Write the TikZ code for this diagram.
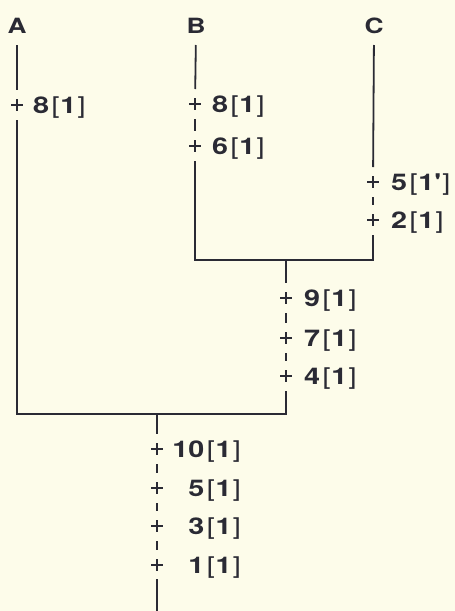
\documentclass[tikz,border=0pt]{standalone}
\usepackage{fontspec}
\usepackage{graphicx}
\setmainfont{TeX Gyre Heros}
\definecolor{bg}{RGB}{253,252,234}
\definecolor{ink}{RGB}{42,42,52}
\newcommand{\wid}[1]{\scalebox{1.25}[1]{#1}}
\newcommand{\cnt}[2]{\wid{\bfseries #1\hspace{2pt}{\mdseries[}\hspace{0.5pt}#2\hspace{1pt}{\mdseries]}}}
\begin{document}
\begin{tikzpicture}[x=1pt,y=-1pt,
  branch/.style={draw=ink, line width=1.8pt, line join=miter},
  gapboth/.style={shorten <=15pt, shorten >=15pt},
  tipname/.style={font=\bfseries\fontsize{21}{24}\selectfont, text=ink, inner sep=0pt, anchor=base},
  lab/.style={font=\fontsize{23}{26}\selectfont, text=ink, inner sep=0pt, anchor=base west},
  labr/.style={font=\fontsize{23}{26}\selectfont, text=ink, inner sep=0pt, anchor=base east},
  plusmark/.style={draw=ink, line width=1.6pt}]
\fill[bg] (0,0) rectangle (455,611);
\useasboundingbox (0,0) rectangle (455,611);

% taxa
\node[tipname] (A) at (17,33) {\wid{A}};
\node[tipname] (B) at (196,33) {\wid{B}};
\node[tipname] (C) at (374,33) {\wid{C}};

% tick points and junctions
\coordinate (a1) at (17,105);
\coordinate (jA) at (17,414);
\coordinate (b1) at (195,104);
\coordinate (b2) at (195,146);
\coordinate (jB) at (195,260);
\coordinate (c1) at (373,182);
\coordinate (c2) at (373,220);
\coordinate (jC) at (373,260);
\coordinate (s0) at (286,260);
\coordinate (s1) at (286,298);
\coordinate (s2) at (286,338);
\coordinate (s3) at (286,376);
\coordinate (s4) at (286,414);
\coordinate (r0) at (157,414);
\coordinate (r1) at (157,449);
\coordinate (r2) at (157,488);
\coordinate (r3) at (157,526);
\coordinate (r4) at (157,565);
\coordinate (rend) at (157,611);

% branches
\draw[branch, shorten <=12pt, shorten >=15pt] (A.base) -- (a1);
\draw[branch, shorten <=12pt, shorten >=15pt] (B.base) -- (b1);
\draw[branch, shorten <=12pt, shorten >=15pt] (C.base) -- (c1);
\draw[branch, gapboth] (b1) -- (b2);
\draw[branch, gapboth] (c1) -- (c2);
\draw[branch, gapboth] (b2) -- (jB) -- (jC) -- (c2);
\draw[branch, shorten >=15pt] (s0) -- (s1);
\draw[branch, gapboth] (s1) -- (s2);
\draw[branch, gapboth] (s2) -- (s3);
\draw[branch, gapboth] (s3) -- (s4) -- (jA) -- (a1);
\draw[branch, shorten >=15pt] (r0) -- (r1);
\draw[branch, gapboth] (r1) -- (r2);
\draw[branch, gapboth] (r2) -- (r3);
\draw[branch, gapboth] (r3) -- (r4);
\draw[branch, shorten <=14pt] (r4) -- (rend);

% plus marks
\foreach \p in {a1,b1,b2,c1,c2,s1,s2,s3,r1,r2,r3,r4}
  \draw[plusmark] (\p) +(-6,0) -- +(6,0) (\p) +(0,-6) -- +(0,6);

% labels
\node[lab] (la1) at (33,113) {\cnt{8}{1}};
\node[lab] (lb1) at (212,112) {\cnt{8}{1}};
\node[lab] (lb2) at (212,154) {\cnt{6}{1}};
\node[lab] (lc1) at (391,190) {\cnt{5}{1\textquotesingle}};
\node[lab] (lc2) at (391,228) {\cnt{2}{1}};
\node[lab] (ls1) at (304,306) {\cnt{9}{1}};
\node[lab] (ls2) at (304,346) {\cnt{7}{1}};
\node[lab] (ls3) at (304,384) {\cnt{4}{1}};
\node[labr] (lr1) at (241,457) {\cnt{10}{1}};
\node[labr] (lr2) at (241,496) {\cnt{5}{1}};
\node[labr] (lr3) at (241,534) {\cnt{3}{1}};
\node[labr] (lr4) at (241,573) {\cnt{1}{1}};
\end{tikzpicture}
\end{document}
